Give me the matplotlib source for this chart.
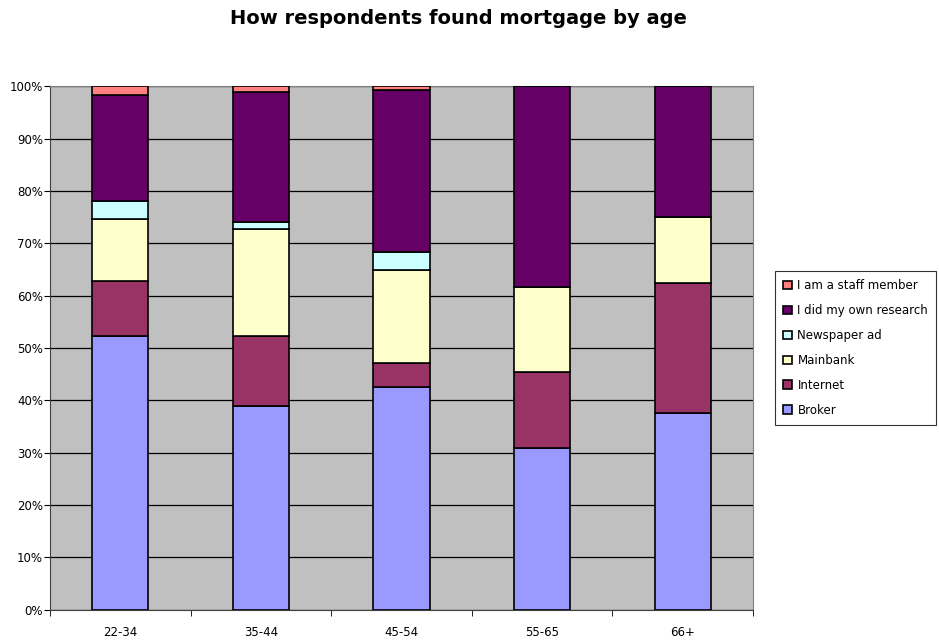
import matplotlib.pyplot as plt
import numpy as np

plt.rcParams['font.family'] = ['DejaVu Sans']

# edades y porcentajes
ages = ['22-34', '35-44', '45-54', '55-65', '66+']
broker = [52.2, 38.9, 42.6, 30.8, 37.5]
internet = [10.5, 13.3, 4.6, 14.6, 25.0]
main_bank = [11.9, 20.6, 17.7, 16.2, 12.5]
newspaper = [3.5, 1.3, 3.4, 0.0, 0.0]
own_research = [20.2, 24.9, 30.9, 38.4, 25.0]
staff = [1.7, 1.0, 0.8, 0.0, 0.0]

series = [('Broker', broker, '#9999FF'),
          ('Internet', internet, '#993366'),
          ('Mainbank', main_bank, '#FFFFCC'),
          ('Newspaper ad', newspaper, '#CCFFFF'),
          ('I did my own research', own_research, '#660066'),
          ('I am a staff member', staff, '#FF8080')]

fig = plt.figure(figsize=(9.39, 6.44), dpi=100)
ax = fig.add_axes([50/939, (644-609.6)/644, (753-50)/939, (609.6-86.3)/644])
ax.set_facecolor('#C0C0C0')

x = np.arange(len(ages))
bottom = np.zeros(len(ages))
handles = []
for name, vals, col in series:
    vals = np.asarray(vals)
    b = ax.bar(x, vals, 0.4, bottom=bottom, color=col, edgecolor='black',
               linewidth=1.2, label=name, zorder=3)
    handles.append(b)
    bottom += vals

ax.set_xlim(-0.5, len(ages) - 0.5)
ax.set_ylim(0, 100)
ax.set_yticks(np.arange(0, 101, 10))
ax.set_yticklabels(['%d%%' % v for v in range(0, 101, 10)], fontsize=8.5)
ax.yaxis.grid(True, color='black', linewidth=0.9, zorder=1)
ax.set_axisbelow(True)

ax.set_xticks(x)
ax.set_xticklabels(ages, fontsize=8.5)
ax.set_xticks(np.arange(-0.5, len(ages)), minor=True)
ax.tick_params(axis='x', which='major', length=0, pad=12)
ax.tick_params(axis='x', which='minor', length=4, direction='out')
ax.tick_params(axis='y', length=4, direction='out', pad=1)

for s in ['top', 'right']:
    ax.spines[s].set_color('#808080')
for s in ['left', 'bottom']:
    ax.spines[s].set_color('#404040')

fig.text(458.5/939, 1 - 18/644, 'How respondents found mortgage by age',
         ha='center', va='center', fontsize=14, fontweight='bold')

leg = fig.legend(handles[::-1], [s[0] for s in series][::-1],
                 loc='center left', bbox_to_anchor=(775/939, 1 - 348/644),
                 fontsize=8.5, frameon=True, fancybox=False, edgecolor='black',
                 handlelength=0.7, handleheight=0.7, handletextpad=0.5,
                 labelspacing=1.0, borderpad=0.7, borderaxespad=0)
leg.get_frame().set_linewidth(0.8)

plt.savefig('out.png', dpi=100)
